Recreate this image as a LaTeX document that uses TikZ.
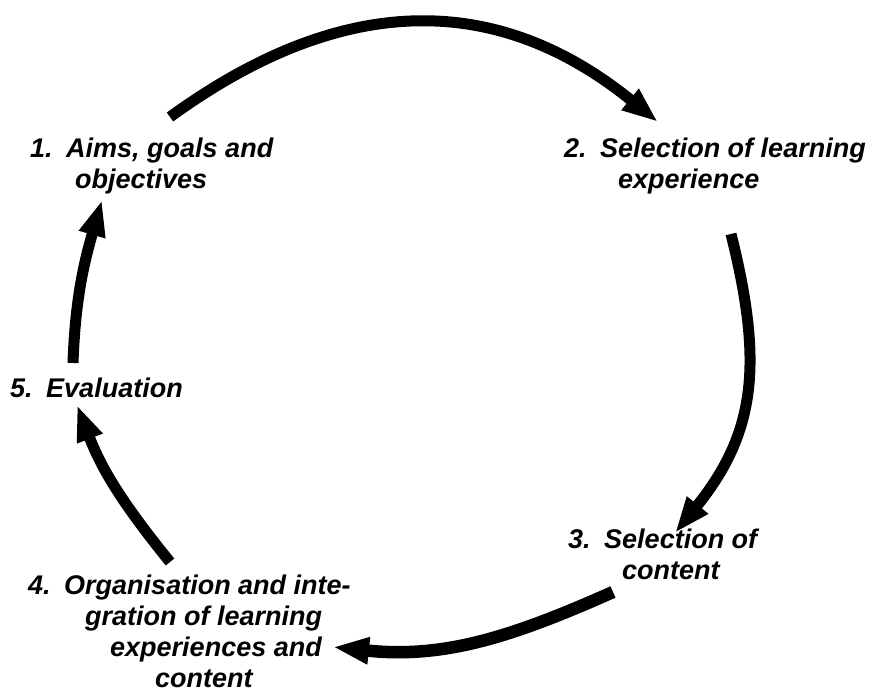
\documentclass[tikz,border=0pt]{standalone}
\usepackage{fontspec}
\setmainfont{Liberation Sans}
\usetikzlibrary{arrows.meta}
\begin{document}
\begin{tikzpicture}[x=1pt,y=1pt,
  lbl/.style={anchor=base west, inner sep=0pt, font=\fontsize{27}{31}\selectfont\bfseries\itshape},
  cyc/.style={line width=11pt, -{Triangle[length=36pt,width=25pt]}}]
\useasboundingbox (0,0) rectangle (871,692);
% labels
\node[lbl] (l1a) at (30,534) {1.\hspace{0.5em}Aims, goals and};
\node[lbl] (l1b) at (75,503) {objectives};
\node[lbl] (l2a) at (564,534) {2.\hspace{0.5em}Selection of learning};
\node[lbl] (l2b) at (618,503) {experience};
\node[lbl] (l3a) at (568,143) {3.\hspace{0.5em}Selection of};
\node[lbl] (l3b) at (622,112) {content};
\node[lbl] (l4a) at (28,97) {4.\hspace{0.5em}Organisation and inte-};
\node[lbl] (l4b) at (85,66) {gration of learning};
\node[lbl] (l4c) at (110,35) {experiences and};
\node[lbl] (l4d) at (155,4) {content};
\node[lbl] (l5) at (10,294) {5.\hspace{0.5em}Evaluation};
% arrow end points
\coordinate (a1s) at (170,575); \coordinate (a1e) at (658,570);
\coordinate (a2s) at (731,458); \coordinate (a2e) at (675,159);
\coordinate (a3s) at (613,100); \coordinate (a3e) at (333,45);
\coordinate (a4s) at (170,130); \coordinate (a4e) at (77,287);
\coordinate (a5s) at (73,329);  \coordinate (a5e) at (102,492);
% cycle arrows
\draw[cyc] (a1s) to[out=36,in=141,looseness=1.1] (a1e);
\draw[cyc] (a2s) to[out=-76,in=51,looseness=1.1] (a2e);
\draw[cyc,line width=12.5pt] (a3s) to[out=204,in=-6] (a3e);
\draw[cyc] (a4s) to[out=129,in=-69] (a4e);
\draw[cyc] (a5s) to[out=88,in=-106] (a5e);
\end{tikzpicture}
\end{document}
